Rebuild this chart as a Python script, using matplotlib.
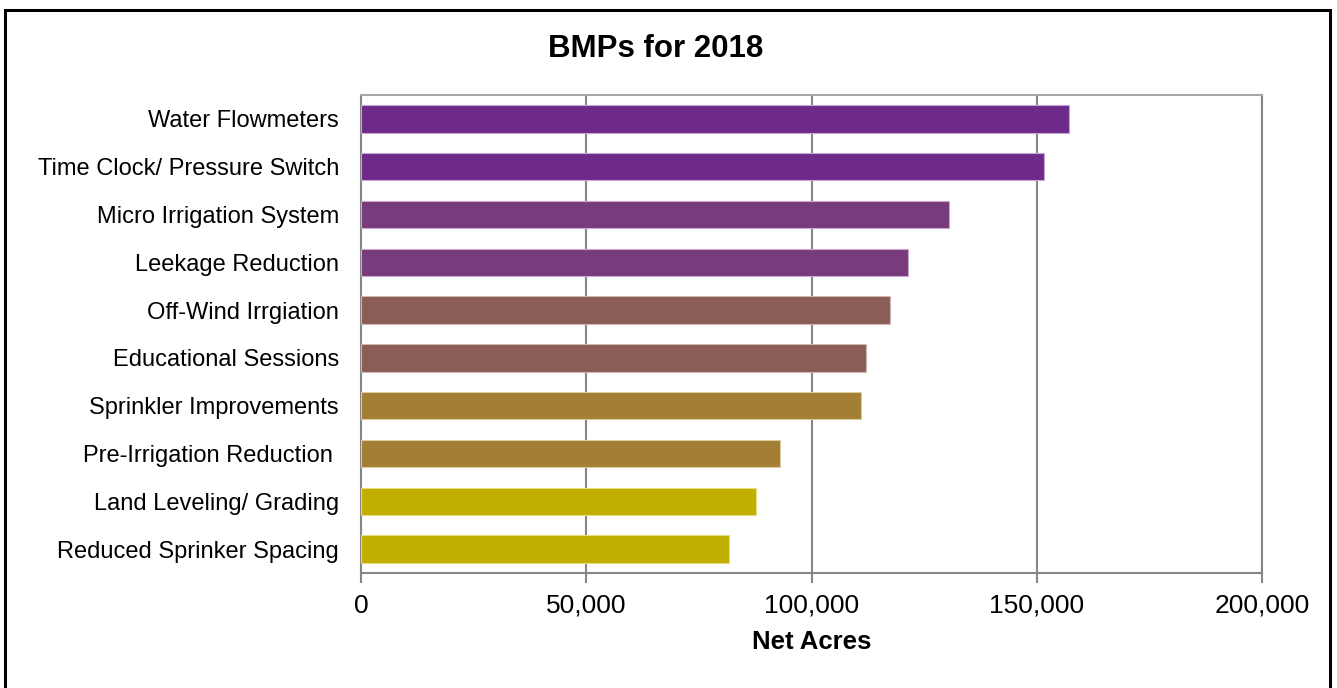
import matplotlib.pyplot as plt
from matplotlib.patches import Rectangle
from matplotlib.ticker import FuncFormatter

plt.rcParams['font.family'] = ['Liberation Sans', 'DejaVu Sans']

# Data (top to bottom as shown)
categories = [
    'Water Flowmeters', 'Time Clock/ Pressure Switch', 'Micro Irrigation System',
    'Leekage Reduction', 'Off-Wind Irrgiation', 'Educational Sessions',
    'Sprinkler Improvements', 'Pre-Irrigation Reduction ', 'Land Leveling/ Grading',
    'Reduced Sprinker Spacing',
]
net_acres = [157200, 151600, 130500, 121400, 117400, 112100, 111000, 93000, 87700, 81700]
bar_colors = ['#6d2a8a', '#6d2a8a', '#783b7b', '#783b7b', '#8b5d57', '#8b5d57',
              '#a37e35', '#a37e35', '#c0ae00', '#c0ae00']
edge_colors = ['#c9a6d8', '#c9a6d8', '#caa8cc', '#caa8cc', '#d0b7b3', '#d0b7b3',
               '#dccaa0', '#dccaa0', '#e6dc80', '#e6dc80']
x_ticks = [0, 50000, 100000, 150000, 200000]

fig = plt.figure(figsize=(13.37, 6.88), dpi=100)
ax = fig.add_axes([361 / 1337, 115 / 688, 901 / 1337, 478 / 688])

# outer chart frame
fig.patches.append(Rectangle((5 / 1337, -0.05), 1325 / 1337, (678 / 688) + 0.05,
                             transform=fig.transFigure, fill=False,
                             edgecolor='black', linewidth=2.2, zorder=10))

ypos = list(range(len(categories)))
ax.barh(ypos, net_acres, height=0.57, color=bar_colors, edgecolor=edge_colors,
        linewidth=0.8, zorder=3)

ax.set_ylim(len(categories) - 0.5, -0.5)
ax.set_xlim(0, 200000)
ax.set_xticks(x_ticks)
ax.xaxis.set_major_formatter(FuncFormatter(lambda v, p: f'{int(v):,}'))
ax.set_yticks(ypos)
ax.set_yticklabels(categories)

ax.grid(axis='x', color='#868686', linewidth=1.5, zorder=0)
ax.tick_params(axis='y', length=0, pad=15.8, labelsize=17)
ax.tick_params(axis='x', length=7, width=1.5, color='#868686', pad=8, labelsize=19)

for side in ['left', 'bottom', 'right']:
    ax.spines[side].set_color('#868686')
    ax.spines[side].set_linewidth(1.5)
ax.spines['top'].set_color('#a8a8a8')
ax.spines['top'].set_linewidth(1.5)

ax.set_xlabel('Net Acres', fontsize=18.5, fontweight='bold', labelpad=8.5)
fig.text(656 / 1337, 1 - 49 / 688, 'BMPs for 2018', ha='center', va='center',
         fontsize=22.5, fontweight='bold')

fig.savefig('out.png', dpi=100)
